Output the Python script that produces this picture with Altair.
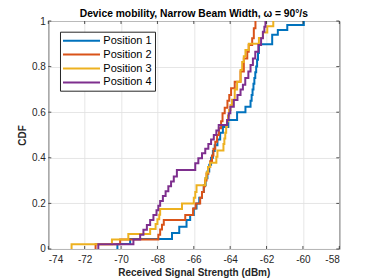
import altair as alt
import pandas as pd

# ---- data ----
SERIES = ["Position 1", "Position 2", "Position 3", "Position 4"]
COLORS = ["#0072BD", "#D95319", "#EDB120", "#7E2F8E"]
X_TICKS = [-74, -72, -70, -68, -66, -64, -62, -60, -58]
Y_TICKS = [0, 0.2, 0.4, 0.6, 0.8, 1]

pos1_x = [-70.2, -69.5, -67.2, -66.8, -66.4, -66.2, -66.0, -65.85, -65.7, -65.55, -65.45, -65.35,
          -65.25, -65.15, -65.05, -64.95, -64.85, -64.7, -64.55, -64.4, -64.1, -63.62, -63.16,
          -62.88, -62.82, -62.77, -62.72, -62.67, -62.62, -62.57, -62.52, -62.47, -62.42, -61.69,
          -61.38, -60.86, -59.95]
pos1_y = [0.022, 0.044, 0.070, 0.098, 0.127, 0.149, 0.178, 0.200, 0.225, 0.250, 0.280, 0.310,
          0.340, 0.370, 0.400, 0.430, 0.455, 0.480, 0.510, 0.535, 0.566, 0.600, 0.624,
          0.650, 0.675, 0.700, 0.725, 0.750, 0.775, 0.800, 0.830, 0.860, 0.898, 0.940,
          0.960, 0.982, 1.0]

pos2_x = [-71.4, -70.05, -67.95, -67.85, -67.75, -67.65, -66.47, -66.04, -65.9, -65.65, -65.55,
          -65.45, -65.38, -65.3, -65.2, -65.1, -65.0, -64.92, -64.82, -64.72, -64.62, -64.5,
          -64.42, -64.3, -64.15, -64.05, -63.95, -63.75, -63.43, -63.25, -63.06, -62.98, -62.79,
          -62.7, -62.61]
pos2_y = [0.021, 0.042, 0.063, 0.085, 0.106, 0.127, 0.149, 0.178, 0.20, 0.225, 0.25,
          0.275, 0.30, 0.33, 0.36, 0.385, 0.41, 0.44, 0.47, 0.50, 0.53, 0.56,
          0.595, 0.62, 0.65, 0.675, 0.705, 0.734, 0.778, 0.836, 0.865, 0.895, 0.924,
          0.968, 1.0]

pos3_x = [-72.72, -70.5, -69.6, -68.4, -68.1, -68.0, -67.9, -67.85, -66.65, -66.0, -65.92, -65.85,
          -65.37, -65.3, -65.22, -65.1, -64.76, -64.7, -64.37, -64.32, -64.27, -64.22, -64.17,
          -64.12, -64.06, -63.98, -63.9, -63.75, -63.62, -63.43, -63.34, -63.25, -63.16, -62.98,
          -62.42, -62.2, -61.96, -61.63]
pos3_y = [0.021, 0.042, 0.066, 0.088, 0.11, 0.13, 0.15, 0.175, 0.20, 0.225, 0.25, 0.28,
          0.31, 0.335, 0.36, 0.378, 0.405, 0.432, 0.46, 0.485, 0.51, 0.536, 0.56,
          0.585, 0.61, 0.632, 0.655, 0.70, 0.734, 0.785, 0.82, 0.845, 0.873, 0.90,
          0.925, 0.95, 0.977, 1.0]

pos4_x = [-71.25, -69.32, -68.95, -68.77, -68.58, -68.4, -68.22, -68.05, -67.95, -67.85, -67.7,
          -67.55, -67.4, -67.25, -67.1, -66.93, -65.92, -65.75, -65.55, -65.37, -65.2, -65.05,
          -64.9, -64.76, -64.63, -64.17, -64.08, -63.99, -63.8, -63.6, -63.43, -63.3, -63.17,
          -63.0, -62.88, -62.75, -62.62, -62.45, -62.3, -62.2, -62.12, -62.06]
pos4_y = [0.021, 0.042, 0.063, 0.084, 0.105, 0.127, 0.149, 0.17, 0.19, 0.21, 0.232,
          0.253, 0.275, 0.296, 0.318, 0.346, 0.376, 0.398, 0.42, 0.44, 0.46, 0.48,
          0.50, 0.52, 0.544, 0.566, 0.595, 0.624, 0.653, 0.675, 0.70, 0.72, 0.75,
          0.778, 0.807, 0.836, 0.865, 0.895, 0.924, 0.953, 0.975, 1.0]

rows = []
for name, xs, ys in zip(SERIES, [pos1_x, pos2_x, pos3_x, pos4_x], [pos1_y, pos2_y, pos3_y, pos4_y]):
    pts = [(xs[0], 0.0)] + list(zip(xs, ys))
    for i, (x, y) in enumerate(pts):
        rows.append({"series": name, "x": x, "y": y, "order": i})
df = pd.DataFrame(rows)

W, H = 291, 228
FONT = "Liberation Sans"
DARK = "#262626"

xscale = alt.Scale(domain=[-74, -58], nice=False, zero=False)
yscale = alt.Scale(domain=[0, 1], nice=False, zero=False)

x_axis = alt.Axis(values=X_TICKS, title="Received Signal Strength (dBm)",
                  labelExpr="'' + datum.value", labelPadding=6, labelOverlap=False,
                  titleY=26.5, titleBaseline="alphabetic")
y_axis = alt.Axis(values=Y_TICKS, title="CDF", labelExpr="'' + datum.value",
                  labelPadding=3, labelOverlap=False, titleX=-23, titleY=H / 2,
                  titleAngle=-90, titleAlign="center", titleBaseline="alphabetic")

lines = alt.Chart(df).mark_line(interpolate="step-after", strokeWidth=2, clip=True).encode(
    x=alt.X("x:Q", scale=xscale, axis=x_axis),
    y=alt.Y("y:Q", scale=yscale, axis=y_axis),
    color=alt.Color("series:N", scale=alt.Scale(domain=SERIES, range=COLORS),
                    legend=alt.Legend(title=None, orient="none", legendX=11.7, legendY=10.7,
                                      direction="vertical",
                                      symbolType="M-3.7,0H3.7", symbolSize=100,
                                      symbolStrokeWidth=2, symbolOffset=12.5, labelOffset=15.8,
                                      labelFont=FONT, labelFontSize=11, labelColor="#000000",
                                      rowPadding=2.9, padding=3, strokeColor=DARK,
                                      fillColor="white", cornerRadius=0)),
    order="order:Q",
)

xt = pd.DataFrame({"x": X_TICKS})
yt = pd.DataFrame({"y": Y_TICKS})
tick_style = dict(color=DARK, strokeWidth=0.8)
ticks_b = alt.Chart(xt).mark_rule(**tick_style).encode(
    x=alt.X("x:Q", scale=xscale, axis=x_axis), y=alt.value(H), y2=alt.value(H - 3))
ticks_t = alt.Chart(xt).mark_rule(**tick_style).encode(
    x=alt.X("x:Q", scale=xscale, axis=x_axis), y=alt.value(0), y2=alt.value(3))
ticks_l = alt.Chart(yt).mark_rule(**tick_style).encode(
    y=alt.Y("y:Q", scale=yscale, axis=y_axis), x=alt.value(0), x2=alt.value(3))
ticks_r = alt.Chart(yt).mark_rule(**tick_style).encode(
    y=alt.Y("y:Q", scale=yscale, axis=y_axis), x=alt.value(W), x2=alt.value(W - 3))

chart = alt.layer(lines, ticks_b, ticks_t, ticks_l, ticks_r).properties(
    width=W, height=H,
    title=alt.TitleParams("Device mobility, Narrow Beam Width, \u03c9 = 90\u00b0/s",
                          anchor="middle", frame="group", font=FONT, fontSize=10.3,
                          fontWeight="bold", color="#000000", offset=4.5,
                          baseline="alphabetic", dy=16),
    autosize=alt.AutoSizeParams(type="none"),
    padding={"left": 40.3, "top": 13, "right": 20, "bottom": 32},
).configure_view(stroke=DARK, strokeWidth=1).configure_axis(
    grid=True, gridColor="#dfdfdf", gridWidth=0.8, domain=False, ticks=False,
    labelFont=FONT, labelFontSize=10, labelColor=DARK, labelOverlap=False,
    titleFont=FONT, titleFontSize=10, titleFontWeight="bold", titleColor=DARK,
)

chart.save("out.html", embed_options={"renderer": "svg", "actions": False})
